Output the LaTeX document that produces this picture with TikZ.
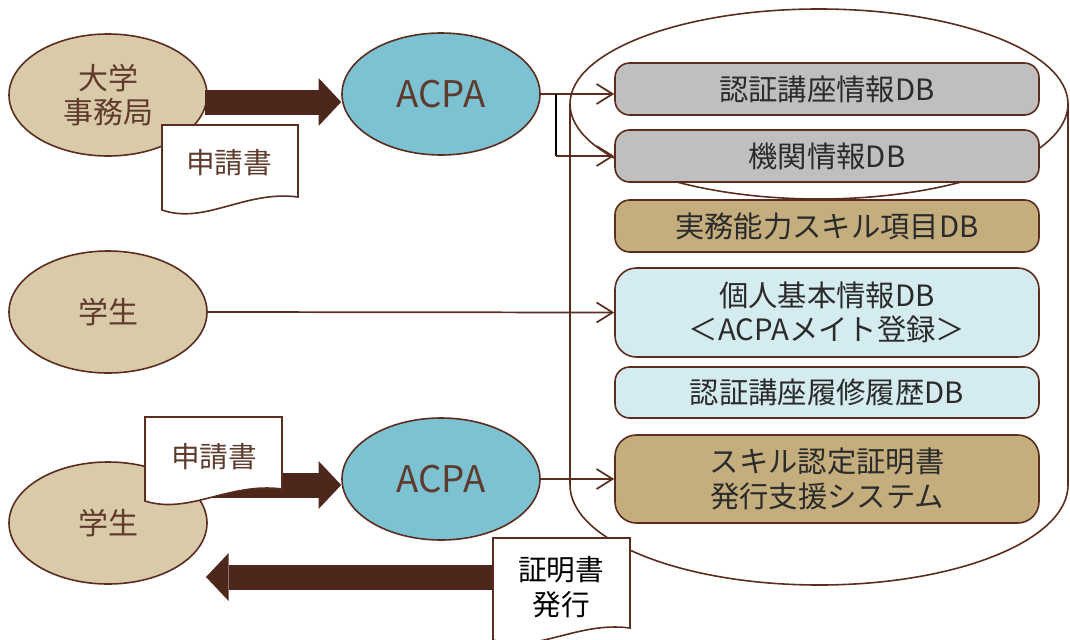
\documentclass[tikz,border=0pt]{standalone}
\usepackage{fontspec}
\setmainfont{Noto Sans CJK JP}
\usepackage{tikz}
\usetikzlibrary{calc}
\usetikzlibrary{shapes.geometric}
\usetikzlibrary{arrows.meta}

\definecolor{linebrown}{HTML}{5A2D1F}
\definecolor{arrowbrown}{HTML}{4E271C}
\definecolor{actortan}{HTML}{D9CAA9}
\definecolor{acpablue}{HTML}{7DC2D3}
\definecolor{dbgray}{HTML}{BFBFBF}
\definecolor{skilltan}{HTML}{C4AE7E}
\definecolor{paleblue}{HTML}{D4EBF0}
\definecolor{textbrown}{HTML}{5E3B2C}
\definecolor{boxtext}{HTML}{2B2B2B}

\begin{document}
\begin{tikzpicture}[x=0.75pt,y=-0.75pt,
actor/.style={ellipse,draw=linebrown,line width=1.2pt,fill=actortan,minimum width=148.5pt,minimum height=91.5pt,inner sep=0pt,text=textbrown,align=center,font=\fontsize{22.5}{26}\selectfont},
acpa/.style={actor,fill=acpablue,font=\fontsize{27.5}{30}\selectfont},
dbbox/.style={draw=linebrown,line width=1.2pt,rounded corners=11pt,minimum width=318pt,inner sep=0pt,align=center,text=boxtext,font=\fontsize{22}{26}\selectfont},
link/.style={draw=linebrown,line width=1.3pt,-{Straight Barb[length=12pt,width=15pt]}},
bigarrow/.style={draw=arrowbrown,line width=18.75pt,-{Triangle[length=17pt,width=36pt,line width=0pt]}},
paper/.style={draw=linebrown,line width=1.2pt,fill=white},
papertext/.style={text=textbrown,align=center,font=\fontsize{21.5}{26}\selectfont}]

\useasboundingbox (0,0) rectangle (1070,639);

% database cylinder
\draw[linebrown,line width=1.2pt] (819,104) ellipse [x radius=249,y radius=95];
\draw[linebrown,line width=1.2pt] (570,104) -- (570,485) .. controls (570,540) and (681,585) .. (819,585) .. controls (957,585) and (1068,540) .. (1068,485) -- (1068,104);

\node[dbbox,fill=dbgray,minimum height=39pt] (course) at (827,89) {認証講座情報DB};
\node[dbbox,fill=dbgray,minimum height=39pt] (inst) at (827,156) {機関情報DB};
\node[dbbox,fill=skilltan,minimum height=39pt] (skill) at (827,226) {実務能力スキル項目DB};
\node[dbbox,fill=paleblue,minimum height=66.75pt,rounded corners=16pt] (person) at (827,312.5) {個人基本情報DB\\＜ACPAメイト登録＞};
\node[dbbox,fill=paleblue,minimum height=38.25pt] (hist) at (827,392.5) {認証講座履修履歴DB};
\node[dbbox,fill=skilltan,minimum height=66pt,rounded corners=16pt] (cert) at (827,479) {スキル認定証明書\\発行支援システム};

\node[actor] (office) at (108,95) {大学\\事務局};
\node[acpa] (acpa1) at (441,94) {ACPA};
\node[actor] (student1) at (108,312) {学生};
\node[actor] (student2) at (108,523) {学生};
\node[acpa] (acpa2) at (441,479) {ACPA};

\draw[link] (acpa1.east) -- (acpa1.east -| course.west);
\coordinate (split) at ($(acpa1.east)+(15,0)$);
\draw[line width=1.3pt] (split) -- (split |- inst.west);
\draw[link] (split |- inst.west) -- (inst.west);
\draw[link] (student1.east) -- (person.west);
\draw[link] (acpa2.east) -- (cert.west);

\coordinate (a1s) at (205,102);
\draw[bigarrow] (a1s) -- (a1s -| acpa1.west);
\coordinate (a2s) at (200,485);
\draw[bigarrow] (a2s) -- (a2s -| acpa2.west);
\coordinate (a3s) at (520,577);
\coordinate (a3e) at (206,577);
\draw[bigarrow] (a3s) -- (a3e);

% documents
\draw[paper] (162,125) -- (298,125) -- (298,197) .. controls (245,190) and (205,225) .. (162,210) -- cycle;
\node[papertext] (form1) at (229,163) {申請書};
\draw[paper] (145,417) -- (282,417) -- (282,489) .. controls (229,482) and (189,515) .. (145,501) -- cycle;
\node[papertext] (form2) at (214,457) {申請書};
\draw[paper] (493,538) -- (630,538) -- (630,628) .. controls (577,621) and (537,654) .. (493,640) -- cycle;
\node[papertext,text=black] (issue) at (561,587) {証明書\\発行};

\end{tikzpicture}
\end{document}
